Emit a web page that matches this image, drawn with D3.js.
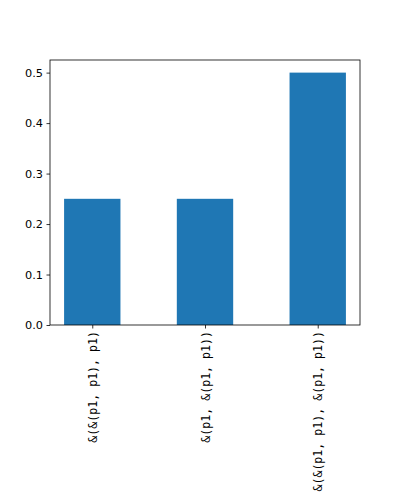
<!DOCTYPE html>
<html><head><meta charset="utf-8">
<script src="https://cdn.jsdelivr.net/npm/d3@7"></script>
<style>body{margin:0;background:#fff}</style>
</head><body>
<script>
const categories = ["&(&(p1, p1), p1)", "&(p1, &(p1, p1))", "&(&(p1, p1), &(p1, p1))"];
const values = [0.25, 0.25, 0.5];
const yTicks = [0.0, 0.1, 0.2, 0.3, 0.4, 0.5];

const W = 400, H = 500;
const L = 50, R = 360, T = 60, B = 325;
const svg = d3.select("body").append("svg").attr("width", W).attr("height", H);

const x = d3.scaleLinear().domain([-0.375, categories.length - 1 + 0.375]).range([L, R]);
const y = d3.scaleLinear().domain([0, 0.525]).range([B, T]);
const bw = 0.5;

svg.selectAll("rect.bar").data(values).enter().append("rect")
  .attr("class", "bar")
  .attr("x", (d, i) => x(i - bw / 2))
  .attr("width", (d, i) => x(i + bw / 2) - x(i - bw / 2))
  .attr("y", d => y(d))
  .attr("height", d => y(0) - y(d))
  .attr("fill", "#1f77b4");

const yAxis = d3.axisLeft(y).tickValues(yTicks).tickFormat(d3.format(".1f")).tickSize(3.5).tickPadding(3.5);
const gy = svg.append("g").attr("transform", `translate(${L},0)`).call(yAxis);
gy.select(".domain").remove();
gy.selectAll("text").attr("font-family", "DejaVu Sans").attr("font-size", "11.3px").attr("fill", "#000");
gy.selectAll("line").attr("stroke", "#000").attr("stroke-width", 0.8);

const xAxis = d3.axisBottom(x).tickValues(d3.range(categories.length)).tickFormat(i => categories[i]).tickSize(3.5).tickPadding(3.5);
const gx = svg.append("g").attr("transform", `translate(0,${B})`).call(xAxis);
gx.select(".domain").remove();
gx.selectAll("line").attr("stroke", "#000").attr("stroke-width", 0.8);
gx.selectAll("text")
  .attr("font-family", "DejaVu Sans Mono").attr("font-size", "11.6px").attr("fill", "#000")
  .attr("text-anchor", "end")
  .attr("transform", "rotate(-90)")
  .attr("x", -6).attr("y", 0).attr("dy", "0.35em");

svg.append("rect").attr("x", L).attr("y", T).attr("width", R - L).attr("height", B - T)
  .attr("fill", "none").attr("stroke", "#000").attr("stroke-width", 0.8);
</script>
</body></html>
